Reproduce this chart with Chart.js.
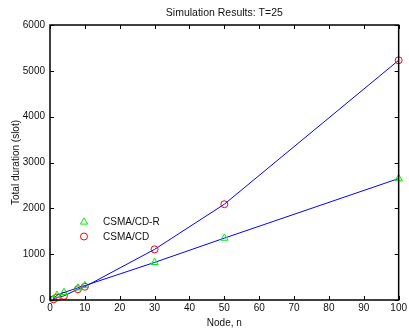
<!DOCTYPE html>
<html lang="en">
<head>
    <meta charset="UTF-8">
    <title>Simulation Results: T=25</title>
    <script src="https://cdn.jsdelivr.net/npm/chart.js"></script>
    <style>
        html, body { margin: 0; padding: 0; background: #fff; }
        canvas { display: block; }
    </style>
</head>
<body>
    <canvas id="simChart" width="409" height="329"></canvas>

    <script>
        // Data
        const nodes = [1, 2, 4, 8, 10, 30, 50, 100];
        const csmaCdR = [25, 105, 165, 265, 315, 820, 1350, 2650];
        const csmaCd = [15, 55, 90, 235, 290, 1105, 2090, 5230];
        const xTicks = [0, 10, 20, 30, 40, 50, 60, 70, 80, 90, 100];
        const yTicks = [0, 1000, 2000, 3000, 4000, 5000, 6000];

        const FONT = "'Liberation Sans', Arial, Helvetica, sans-serif";
        const toPoints = (ys) => nodes.map((n, i) => ({ x: n, y: ys[i] }));

        // Box, inward ticks, title and legend drawn in MATLAB style
        const matlabFrame = {
            id: 'matlabFrame',
            afterDatasetsDraw(chart) {
                const { ctx, chartArea: a, scales: { x, y } } = chart;
                ctx.save();
                ctx.strokeStyle = '#000';
                ctx.lineWidth = 1.5;
                ctx.strokeRect(a.left, a.top, a.right - a.left, a.bottom - a.top);

                ctx.lineWidth = 1;
                ctx.beginPath();
                xTicks.forEach(v => {
                    const px = Math.round(x.getPixelForValue(v)) + 0.5;
                    ctx.moveTo(px, a.bottom); ctx.lineTo(px, a.bottom - 4);
                    ctx.moveTo(px, a.top); ctx.lineTo(px, a.top + 4);
                });
                yTicks.forEach(v => {
                    const py = Math.round(y.getPixelForValue(v)) + 0.5;
                    ctx.moveTo(a.left, py); ctx.lineTo(a.left + 4, py);
                    ctx.moveTo(a.right, py); ctx.lineTo(a.right - 4, py);
                });
                ctx.stroke();

                // title centred over the axes
                ctx.fillStyle = '#111';
                ctx.font = '10.5px ' + FONT;
                ctx.textAlign = 'center';
                ctx.textBaseline = 'middle';
                ctx.fillText('Simulation Results: T=25', (a.left + a.right) / 2, 13);

                // legend inside the axes
                ctx.font = '10px ' + FONT;
                ctx.textAlign = 'left';
                chart.data.datasets.forEach((ds, i) => {
                    const ly = 222 + i * 14.5;
                    ctx.strokeStyle = ds.pointBorderColor;
                    ctx.fillStyle = 'rgba(0,0,0,0)';
                    Chart.helpers.drawPoint(ctx, {
                        pointStyle: ds.pointStyle,
                        radius: ds.pointRadius,
                        borderWidth: 1,
                        rotation: 0
                    }, 84, ly);
                    ctx.fillStyle = '#111';
                    ctx.fillText(ds.label, 103, ly + 0.5);
                });
                ctx.restore();
            }
        };

        const ctx = document.getElementById('simChart').getContext('2d');
        new Chart(ctx, {
            type: 'line',
            data: {
                datasets: [{
                    label: 'CSMA/CD-R',
                    data: toPoints(csmaCdR),
                    borderColor: '#0000ff',
                    borderWidth: 1,
                    pointStyle: 'triangle',
                    pointRadius: 4.2,
                    pointBorderColor: '#00f000',
                    pointBackgroundColor: 'rgba(0,0,0,0)',
                    pointBorderWidth: 1,
                    tension: 0,
                    clip: false
                }, {
                    label: 'CSMA/CD',
                    data: toPoints(csmaCd),
                    borderColor: '#0000ff',
                    borderWidth: 1,
                    pointStyle: 'circle',
                    pointRadius: 3.5,
                    pointBorderColor: '#ff0000',
                    pointBackgroundColor: 'rgba(0,0,0,0)',
                    pointBorderWidth: 1,
                    tension: 0,
                    clip: false
                }]
            },
            options: {
                responsive: false,
                animation: false,
                layout: { padding: { top: 25, right: 9, left: 0, bottom: 0 } },
                plugins: {
                    legend: { display: false },
                    title: { display: false },
                    tooltip: { enabled: false }
                },
                scales: {
                    x: {
                        type: 'linear',
                        min: 0,
                        max: 100,
                        afterFit: (s) => { s.height = 29; },
                        afterBuildTicks: (s) => { s.ticks = xTicks.map(v => ({ value: v })); },
                        grid: { display: false, drawTicks: false },
                        border: { display: false },
                        ticks: {
                            autoSkip: false,
                            maxRotation: 0,
                            padding: 2,
                            color: '#111',
                            font: { family: FONT, size: 10 },
                            callback: (v) => String(v)
                        },
                        title: {
                            display: true,
                            text: 'Node, n',
                            color: '#111',
                            padding: { top: 0, bottom: 0 },
                            font: { family: FONT, size: 10 }
                        }
                    },
                    y: {
                        min: 0,
                        max: 6000,
                        afterFit: (s) => { s.width = 50; },
                        afterBuildTicks: (s) => { s.ticks = yTicks.map(v => ({ value: v })); },
                        grid: { display: false, drawTicks: false },
                        border: { display: false },
                        ticks: {
                            padding: 5,
                            color: '#111',
                            font: { family: FONT, size: 10 },
                            callback: (v) => String(v)
                        },
                        title: {
                            display: true,
                            text: 'Total duration (slot)',
                            color: '#111',
                            padding: { top: 10, bottom: 0 },
                            font: { family: FONT, size: 10 }
                        }
                    }
                }
            },
            plugins: [matlabFrame]
        });
    </script>
</body>
</html>
